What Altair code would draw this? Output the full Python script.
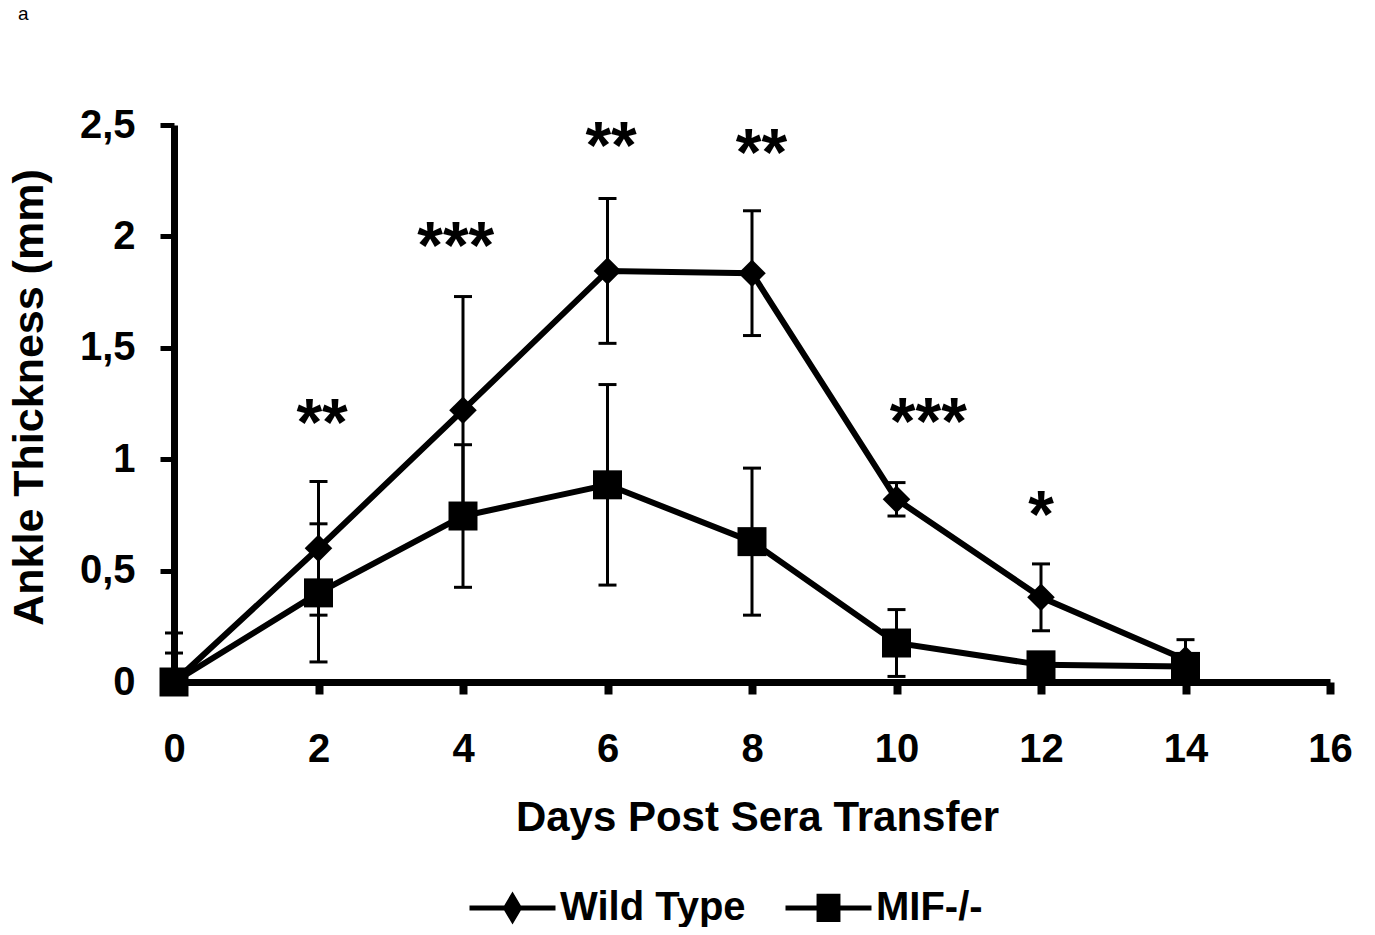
import altair as alt
import pandas as pd

# ---- data ----
days = [0, 2, 4, 6, 8, 10, 12, 14]
groups = ["Wild Type", "MIF-/-"]
wt_mean = [0.0, 0.60, 1.22, 1.845, 1.835, 0.82, 0.38, 0.10]
wt_err = [0.22, 0.30, 0.51, 0.325, 0.28, 0.075, 0.15, 0.09]
mif_mean = [0.0, 0.40, 0.745, 0.885, 0.63, 0.175, 0.077, 0.07]
mif_err = [0.13, 0.31, 0.32, 0.45, 0.33, 0.15, 0.03, 0.03]

# significance annotations (x position in days, y position in mm)
sig_x = [2.05, 3.9, 6.05, 8.13, 10.44, 12.0]
sig_labels = ["**", "***", "**", "**", "***", "*"]
sig_y = [1.207, 2.0, 2.45, 2.42, 1.21, 0.795]

x_ticks = [0, 2, 4, 6, 8, 10, 12, 14, 16]
y_ticks = [0, 0.5, 1, 1.5, 2, 2.5]
panel_label = ["a"]

rows = []
for g, means, errs in [(groups[0], wt_mean, wt_err), (groups[1], mif_mean, mif_err)]:
    for d, m, e in zip(days, means, errs):
        rows.append({"day": d, "group": g, "mean": m, "lo": max(m - e, 0.0), "hi": m + e})
df = pd.DataFrame(rows)
sig_df = pd.DataFrame({"day": sig_x, "label": sig_labels, "y": sig_y})

FONT = "Liberation Sans"

x_axis = alt.Axis(
    values=x_ticks, title="Days Post Sera Transfer", grid=False,
    titleFont=FONT, titleFontSize=42, titleFontWeight="bold", titleColor="black",
    titleX=583, titleY=148, titleBaseline="alphabetic",
    labelFont=FONT, labelFontSize=40, labelFontWeight="bold", labelColor="black",
    labelPadding=35, labelFlush=False, labelOverlap=False,
    tickSize=12, tickWidth=8, tickColor="black",
    domainColor="black", domainWidth=7,
)
y_axis = alt.Axis(
    values=y_ticks, title="Ankle Thickness (mm)", grid=False,
    labelExpr="replace(format(datum.value, '~g'), '.', ',')",
    titleFont=FONT, titleFontSize=43, titleFontWeight="bold", titleColor="black",
    titleX=-145, titleY=272, titleAngle=270, titleBaseline="middle", titleAlign="center",
    labelFont=FONT, labelFontSize=40, labelFontWeight="bold", labelColor="black",
    labelPadding=25, labelFlush=False, labelOverlap=False,
    tickSize=14, tickWidth=5, tickColor="black",
    domainColor="black", domainWidth=7,
)

xs = alt.Scale(domain=[0, 16], nice=False, zero=False)
ys = alt.Scale(domain=[0, 2.5], nice=False)

X = alt.X("day:Q", scale=xs, axis=x_axis)


def Y(field):
    return alt.Y(f"{field}:Q", scale=ys, axis=y_axis)


base = alt.Chart(df)

wt_path = "M-1,0H1M-0.16,0L0,-0.27L0.16,0L0,0.27Z"
mif_path = "M-1,0H1M-0.22,-0.27H0.22V0.27H-0.22Z"

legend = alt.Legend(
    orient="none", legendX=293, legendY=737, direction="horizontal", title=None,
    symbolType={"expr": f"datum.value == 'Wild Type' ? '{wt_path}' : '{mif_path}'"},
    symbolSize=7396, symbolStrokeWidth=5, symbolFillColor="black",
    symbolStrokeColor="black", symbolOpacity=1,
    labelFont=FONT, labelFontSize=40, labelFontWeight="bold", labelColor="black",
    labelOffset=2, labelLimit=0, columnPadding=29, padding=0,
)

lines = base.mark_line(strokeWidth=6).encode(
    x=X, y=Y("mean"),
    color=alt.Color("group:N", scale=alt.Scale(domain=groups, range=["black", "black"]),
                    legend=legend),
)
err_rules = base.mark_rule(color="black", strokeWidth=3).encode(
    x=X, y=Y("lo"), y2="hi:Q"
)
cap_lo = base.mark_point(shape="M-1,0H1", size=324, strokeWidth=3, color="black",
                         filled=False, opacity=1).encode(x=X, y=Y("lo"))
cap_hi = base.mark_point(shape="M-1,0H1", size=324, strokeWidth=3, color="black",
                         filled=False, opacity=1).encode(x=X, y=Y("hi"))

markers_wt = base.transform_filter(alt.datum.group == groups[0]).mark_point(
    shape="diamond", filled=True, color="black", opacity=1, size=760, strokeWidth=0
).encode(x=X, y=Y("mean"))
markers_mif = base.transform_filter(alt.datum.group == groups[1]).mark_point(
    shape="square", filled=True, color="black", opacity=1, size=840, strokeWidth=0
).encode(x=X, y=Y("mean"))

stars = alt.Chart(sig_df).mark_text(
    font=FONT, fontSize=66, fontWeight="bold", color="black", dy=32, baseline="alphabetic"
).encode(x=X, y=Y("y"), text="label:N")

panel = alt.Chart(pd.DataFrame({"t": panel_label})).mark_text(
    font=FONT, fontSize=19, color="black", align="left", baseline="alphabetic"
).encode(text="t:N", x=alt.value(-156), y=alt.value(-105))

chart = alt.layer(lines, err_rules, cap_lo, cap_hi, markers_wt, markers_mif, stars, panel).properties(
    width=1156, height=557,
    autosize=alt.AutoSizeParams(type="none"),
    padding={"left": 166, "top": 117, "right": 32, "bottom": 245},
    background="white",
).configure_view(stroke=None)

chart.save("out.html", embed_options={"renderer": "svg", "actions": False})
